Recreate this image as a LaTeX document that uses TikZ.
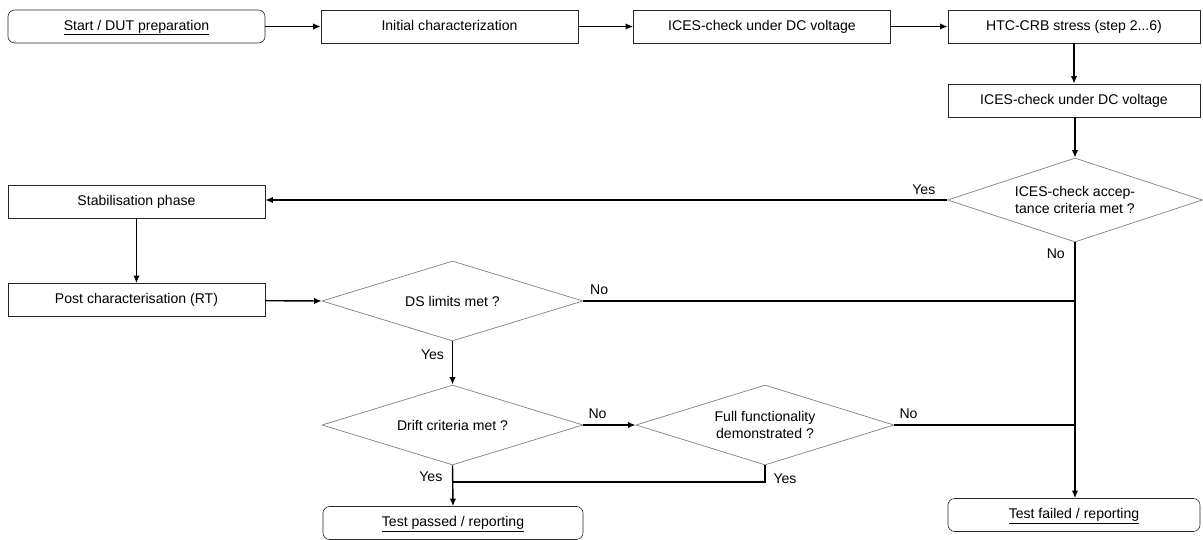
\documentclass[tikz,border=0pt]{standalone}
\usepackage{fontspec}
\setmainfont{Liberation Sans}
\usetikzlibrary{shapes.geometric,arrows.meta}

\tikzset{
  proc/.style={draw=black!85, line width=0.5pt, minimum width=7.71cm, minimum height=0.99cm, inner sep=0pt,
    text height=1.6ex, text depth=0.45ex, font=\fontsize{12}{14}\selectfont},
  term/.style={proc, rounded corners=0.2cm},
  dec/.style={diamond, draw=black!50, line width=0.6pt, inner sep=0pt, aspect=3, align=center,
    minimum width=7.8cm, minimum height=2.4cm, font=\fontsize{12}{14}\selectfont},
  flow/.style={-{Latex[length=6.5pt,width=5.5pt]}, line width=1.2pt},
  link/.style={line width=1.2pt},
  lbl/.style={inner sep=1pt, font=\fontsize{12}{14}\selectfont},
}

\begin{document}
\begin{tikzpicture}[x=0.03cm, y=-0.03cm]

  \useasboundingbox (0, 0) rectangle (1203, 540);

  % top row
  \node[term] (start) at (136.5, 26.5) {\underline{Start / DUT preparation}};
  \node[proc] (init) at (449.5, 26.5) {Initial characterization};
  \node[proc] (ices1) at (762, 26.5) {ICES-check under DC voltage};
  \node[proc, minimum width=7.56cm] (htc) at (1074, 26.5) {HTC-CRB stress (step 2...6)};
  \node[proc, minimum width=7.56cm] (ices2) at (1074, 100.5) {ICES-check under DC voltage};

  % decisions
  \node[dec, minimum width=7.65cm, minimum height=2.52cm] (accept) at (1075, 200) {ICES-check accep-\\tance criteria met ?};
  \node[proc] (stab) at (136.5, 201.5) {Stabilisation phase};
  \node[proc] (post) at (136.5, 300) {Post characterisation (RT)};
  \node[dec, minimum width=7.83cm] (ds) at (452.5, 301) {DS limits met ?};
  \node[dec, minimum width=7.83cm] (drift) at (452.5, 425) {Drift criteria met ?};
  \node[dec, minimum width=7.74cm] (full) at (765, 425) {Full functionality\\demonstrated ?};

  % end states
  \node[term, minimum width=7.8cm] (passed) at (453, 523) {\underline{Test passed / reporting}};
  \node[term, minimum width=7.56cm] (failed) at (1074, 515) {\underline{Test failed / reporting}};
  \coordinate (merge) at (452.5, 482);

  \draw[flow] (start) -- (init);
  \draw[flow] (init) -- (ices1);
  \draw[flow] (ices1) -- (htc);
  \draw[flow] (htc) -- (ices2);
  \draw[flow] (ices2.south -| accept.north) -- (accept.north);
  \draw[flow] (accept.west) -- node[lbl, pos=0, anchor=south east, xshift=-0.3cm, yshift=0.1cm] {Yes} (stab.east |- accept.west);
  \draw[flow] (accept.south) -- node[lbl, pos=0, anchor=north east, xshift=-0.25cm, yshift=-0.15cm] {No} (accept.south |- failed.north);
  \draw[flow] (stab) -- (post);
  \draw[flow] (post) -- (ds.west);
  \draw[link] (ds.east) -- node[lbl, pos=0, anchor=south west, xshift=0.15cm, yshift=0.12cm] {No} (ds.east -| accept.south);
  \draw[flow] (ds.south) -- node[lbl, pos=0, anchor=north east, xshift=-0.2cm, yshift=-0.2cm] {Yes} (drift.north);
  \draw[flow] (drift.east) -- node[lbl, pos=0, anchor=south west, xshift=0.1cm, yshift=0.12cm] {No} (full.west);
  \draw[link] (full.east) -- node[lbl, pos=0, anchor=south west, xshift=0.1cm, yshift=0.12cm] {No} (full.east -| accept.south);
  \draw[flow] (drift.south) -- node[lbl, pos=0, anchor=north east, xshift=-0.25cm, yshift=-0.15cm] {Yes} (passed.north);
  \draw[link] (full.south) |- node[lbl, pos=0.4, anchor=west, xshift=0.2cm] {Yes} (merge);

\end{tikzpicture}
\end{document}
